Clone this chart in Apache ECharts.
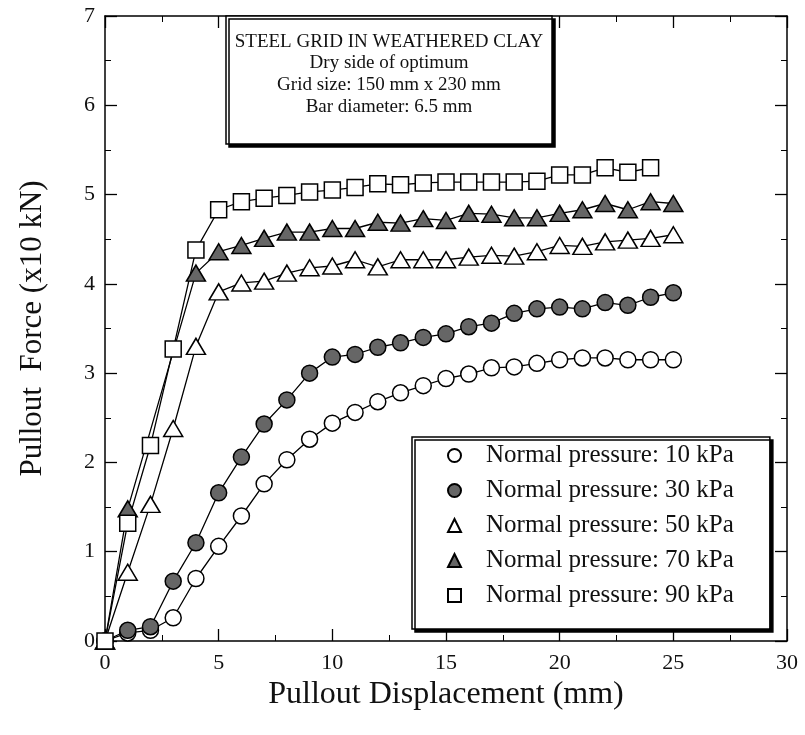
<!DOCTYPE html>
<html>
<head>
<meta charset="utf-8">
<script src="https://cdn.jsdelivr.net/npm/echarts@6/dist/echarts.min.js"></script>
<style>
  html, body { margin: 0; padding: 0; background: #fff; }
  #chart { width: 805px; height: 735px; }
</style>
</head>
<body>
<div id="chart"></div>
<script>
// pullout displacement (mm)
var disp = [0, 1, 2, 3, 4, 5, 6, 7, 8, 9, 10, 11, 12, 13, 14, 15, 16, 17, 18, 19, 20, 21, 22, 23, 24, 25];

// pullout force (x10 kN) for each normal pressure
var p10 = [0, 0.09, 0.12, 0.26, 0.70, 1.06, 1.40, 1.76, 2.03, 2.26, 2.44, 2.56, 2.68, 2.78, 2.86, 2.94, 2.99, 3.06, 3.07, 3.11, 3.15, 3.17, 3.17, 3.15, 3.15, 3.15];
var p30 = [0, 0.12, 0.16, 0.67, 1.10, 1.66, 2.06, 2.43, 2.70, 3.00, 3.18, 3.21, 3.29, 3.34, 3.40, 3.44, 3.52, 3.56, 3.67, 3.72, 3.74, 3.72, 3.79, 3.76, 3.85, 3.90];
var p50 = [0, 0.77, 1.53, 2.38, 3.30, 3.91, 4.01, 4.03, 4.12, 4.18, 4.20, 4.27, 4.19, 4.27, 4.27, 4.27, 4.30, 4.32, 4.31, 4.36, 4.43, 4.42, 4.47, 4.49, 4.51, 4.55];
var p70 = [0, 1.48, null, null, 4.12, 4.36, 4.43, 4.51, 4.58, 4.58, 4.62, 4.62, 4.69, 4.68, 4.73, 4.71, 4.79, 4.78, 4.74, 4.74, 4.79, 4.83, 4.90, 4.83, 4.92, 4.90];
var p90 = [0, 1.32, 2.19, 3.27, 4.38, 4.83, 4.92, 4.96, 4.99, 5.03, 5.05, 5.08, 5.12, 5.11, 5.13, 5.14, 5.14, 5.14, 5.14, 5.15, 5.22, 5.22, 5.30, 5.25, 5.30];

var names = ['Normal pressure: 10 kPa', 'Normal pressure: 30 kPa', 'Normal pressure: 50 kPa',
             'Normal pressure: 70 kPa', 'Normal pressure: 90 kPa'];

var titleLines = ['STEEL GRID IN WEATHERED CLAY', 'Dry side of optimum',
                  'Grid size: 150 mm x 230 mm', 'Bar diameter: 6.5 mm'];

var serif = '"Liberation Serif", "Times New Roman", serif';
var grey = '#666';

function pairs(ys) {
  var out = [];
  for (var i = 0; i < ys.length; i++) {
    if (ys[i] !== null) out.push([disp[i], ys[i]]);
  }
  return out;
}

function mkSeries(name, ys, symbol, size, fill) {
  return {
    name: name,
    type: 'line',
    data: pairs(ys),
    symbol: symbol,
    symbolSize: size,
    showAllSymbol: true,
    lineStyle: { color: '#000', width: 1.3 },
    itemStyle: { color: fill, borderColor: '#000', borderWidth: 1.5 },
    emphasis: { disabled: true }
  };
}

// axis with inward ticks; the top and right copies close the frame
function frameAxis(pos, isX) {
  return {
    type: 'value',
    position: pos,
    min: 0,
    max: isX ? 30 : 7,
    interval: isX ? 5 : 1,
    axisLine: { show: true, onZero: false, lineStyle: { color: '#000', width: 1.5 } },
    axisTick: { show: true, inside: true, length: 12, lineStyle: { color: '#000', width: 1.3 } },
    minorTick: { show: true, splitNumber: 2, length: 6, lineStyle: { color: '#000', width: 1 } },
    splitLine: { show: false },
    axisLabel: { show: false }
  };
}

var chart = echarts.init(document.getElementById('chart'));

var xBottom = frameAxis('bottom', true);
xBottom.axisLabel = { show: true, fontFamily: serif, fontSize: 22, color: '#111', margin: 11 };
xBottom.name = 'Pullout Displacement (mm)';
xBottom.nameLocation = 'middle';
xBottom.nameGap = 33;
xBottom.nameTextStyle = { fontFamily: serif, fontSize: 32, color: '#111' };

var yLeft = frameAxis('left', false);
yLeft.axisLabel = { show: true, fontFamily: serif, fontSize: 22, color: '#111', margin: 10 };
yLeft.name = 'Pullout  Force (x10 kN)';
yLeft.nameLocation = 'middle';
yLeft.nameGap = 57;
yLeft.nameTextStyle = { fontFamily: serif, fontSize: 31, color: '#111' };

var titleGraphic = [{
  type: 'rect',
  shape: { x: 226, y: 16, width: 326, height: 128 },
  style: { fill: '#fff', stroke: '#000', lineWidth: 1.5, shadowColor: '#000', shadowBlur: 0, shadowOffsetX: 3, shadowOffsetY: 3 },
  z: 10
}];
var titleY = [42, 63, 85, 107];
for (var i = 0; i < titleLines.length; i++) {
  titleGraphic.push({
    type: 'text',
    x: 389,
    y: titleY[i],
    style: { text: titleLines[i], font: '19px ' + serif, fill: '#111', textAlign: 'center', textVerticalAlign: 'middle' },
    z: 11
  });
}

var option = {
  animation: false,
  backgroundColor: '#fff',
  grid: { left: 105, right: 18, top: 16, bottom: 94 },
  xAxis: [xBottom, frameAxis('top', true)],
  yAxis: [yLeft, frameAxis('right', false)],
  legend: {
    orient: 'vertical',
    left: 412,
    top: 437,
    padding: [6, 36, 21, 35],
    itemGap: 10,
    itemWidth: 13,
    itemHeight: 13,
    backgroundColor: '#fff',
    borderColor: '#000',
    borderWidth: 1.5,
    shadowColor: '#000',
    shadowBlur: 0,
    shadowOffsetX: 3,
    shadowOffsetY: 3,
    selectedMode: false,
    formatter: function (n) { return '{g|}{t|' + n + '}'; },
    textStyle: {
      fontFamily: serif, fontSize: 25, color: '#111', lineHeight: 22,
      rich: {
        g: { width: 20, lineHeight: 22 },
        t: { fontFamily: serif, fontSize: 25, color: '#111', lineHeight: 22 }
      }
    },
    data: [
      { name: names[0], icon: 'circle' },
      { name: names[1], icon: 'circle' },
      { name: names[2], icon: 'triangle' },
      { name: names[3], icon: 'triangle' },
      { name: names[4], icon: 'rect' }
    ]
  },
  graphic: titleGraphic,
  series: [
    mkSeries(names[0], p10, 'circle', 16, '#fff'),
    mkSeries(names[1], p30, 'circle', 16, grey),
    mkSeries(names[2], p50, 'triangle', [19, 16], '#fff'),
    mkSeries(names[3], p70, 'triangle', [19, 16], grey),
    mkSeries(names[4], p90, 'rect', 16, '#fff')
  ]
};

chart.setOption(option);
</script>
</body>
</html>
